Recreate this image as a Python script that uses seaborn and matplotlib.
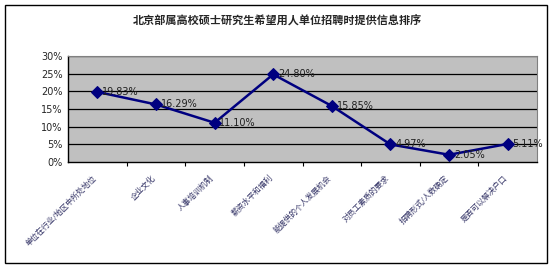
import matplotlib
matplotlib.use("Agg")
import matplotlib.pyplot as plt
import seaborn as sns
import pandas as pd
from matplotlib.patches import Rectangle

sns.set_theme(style="white")
plt.rcParams['font.family'] = ['Noto Sans CJK SC', 'DejaVu Sans']

title = "北京部属高校硕士研究生希望用人单位招聘时提供信息排序"
categories = ["单位在行业/地区中所处地位", "企业文化", "人事培训机制", "薪资水平和福利",
              "能提供的个人发展机会", "对员工素质的要求", "招聘形式/人数确定", "是否可以解决户口"]
values = [19.83, 16.29, 11.10, 24.80, 15.85, 4.97, 2.05, 5.11]
yticks = [0, 5, 10, 15, 20, 25, 30]

df = pd.DataFrame({"cat": categories, "val": values, "pos": range(len(categories))})

W, H = 553, 268
fig = plt.figure(figsize=(W / 100, H / 100), dpi=100)
fig.patch.set_facecolor("white")
fig.add_artist(Rectangle((5 / W, 5 / H), 542 / W, 258 / H, transform=fig.transFigure,
                         fill=False, edgecolor="black", linewidth=1.0))

ax = fig.add_axes([68 / W, 1 - 162 / H, (537 - 68) / W, (162 - 56) / H])
ax.set_facecolor("#C0C0C0")

sns.lineplot(data=df, x="pos", y="val", ax=ax, color="#000080", linewidth=1.8,
             marker="D", markersize=6, markeredgecolor="#000080", zorder=5)

for p, v in zip(df["pos"], df["val"]):
    ax.text(p + 0.08, v, f"{v:.2f}%", fontsize=7, color="#202020",
            va="center", ha="left", family=["DejaVu Sans"], zorder=6)

ax.set_xlim(-0.5, len(categories) - 0.5)
ax.set_ylim(0, 30)
ax.set_yticks(yticks)
ax.set_yticklabels([f"{t}%" for t in yticks], fontsize=7, family=["DejaVu Sans"])
for t in yticks[1:]:
    ax.axhline(t, color="black", linewidth=0.9, zorder=1)

ax.set_xticks([i - 0.5 for i in range(1, len(categories))], minor=False)
ax.set_xticklabels([])
ax.tick_params(axis="x", which="major", direction="out", length=3, width=0.8, color="black", bottom=True)
ax.tick_params(axis="y", length=0, pad=4)

for i, c in enumerate(categories):
    ax.text(i - 0.08, -3.3, c, rotation=45, rotation_mode="anchor", ha="right", va="top",
            fontsize=5.6, color="#333366", transform=ax.transData)

for s in ["left", "bottom"]:
    ax.spines[s].set_color("black")
    ax.spines[s].set_linewidth(1.0)
for s in ["top", "right"]:
    ax.spines[s].set_color("#808080")
    ax.spines[s].set_linewidth(0.8)
ax.set_xlabel("")
ax.set_ylabel("")

fig.text(277 / W, 1 - 20 / H, title, ha="center", va="center", fontsize=8, fontweight="bold")

fig.savefig("out.png", dpi=100)
